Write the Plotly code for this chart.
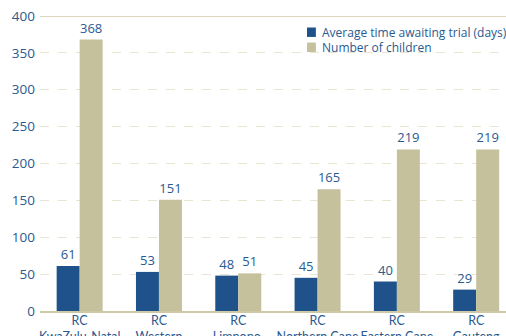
import plotly.graph_objects as go

# Children in reception centres (RC) by province
centres = [
    "RC<br>KwaZulu-Natal",
    "RC<br>Western<br>Cape",
    "RC<br>Limpopo.",
    "RC<br>Northern Cape",
    "RC<br>Eastern Cape",
    "RC<br>Gauteng",
]
avg_days_awaiting_trial = [61, 53, 48, 45, 40, 29]
number_of_children = [368, 151, 51, 165, 219, 219]
y_ticks = [0, 50, 100, 150, 200, 250, 300, 350, 400]
series_names = ["Average time awaiting trial (days)", "Number of children"]

BLUE = "#1f528b"
TAN = "#c4c19c"
TEXT = "#2a5a8f"
FONT = "Open Sans"

x_idx = list(range(len(centres)))

fig = go.Figure()
for name, values, color in zip(series_names,
                               [avg_days_awaiting_trial, number_of_children],
                               [BLUE, TAN]):
    fig.add_trace(go.Bar(
        x=x_idx, y=values, name=name,
        marker=dict(color=color, line=dict(width=0)),
        text=values, textposition="outside",
        textfont=dict(color=TEXT, size=13, family=FONT),
        cliponaxis=False, showlegend=False,
    ))

# solid rule along the top of the value range
fig.add_shape(type="line", xref="paper", yref="y", x0=0, x1=1, y0=400, y1=400,
              line=dict(color="#cdc8a6", width=1.5), layer="below")

# compact key in the upper right
key_x = 0.573
for i, (name, color) in enumerate(zip(series_names, [BLUE, TAN])):
    yc = 0.945 - i * 0.051
    fig.add_shape(type="rect", xref="paper", yref="paper",
                  x0=key_x, x1=key_x + 0.019, y0=yc - 0.016, y1=yc + 0.016,
                  fillcolor=color, line=dict(width=0))
    fig.add_annotation(xref="paper", yref="paper", x=key_x + 0.028, y=yc,
                       text=name, showarrow=False, xanchor="left", yanchor="middle",
                       font=dict(size=12, color=TEXT, family=FONT))

fig.update_layout(
    width=506, height=336,
    margin=dict(l=40, r=0, t=16, b=25, autoexpand=False),
    paper_bgcolor="white", plot_bgcolor="white",
    barmode="group", bargap=0.42, bargroupgap=0,
    font=dict(family=FONT, color=TEXT),
    showlegend=False,
)
fig.update_xaxes(
    tickmode="array", tickvals=x_idx, ticktext=centres,
    range=[-0.5, 5.376], tickangle=0, automargin=False,
    showgrid=False, zeroline=False,
    showline=True, linecolor="#cdc8a6", linewidth=2,
    ticks="", tickfont=dict(size=12.5, color=TEXT, family="Lato"),
    ticklabelstandoff=-3,
)
fig.update_yaxes(
    range=[0, 400], tickvals=y_ticks, automargin=False,
    showgrid=True, gridcolor="#e8e6d3", griddash="dash", gridwidth=1,
    zeroline=False, showline=False, ticks="",
    tickfont=dict(size=13.5, color=TEXT, family=FONT),
    ticklabelstandoff=4,
)

fig.write_html("out.html")
